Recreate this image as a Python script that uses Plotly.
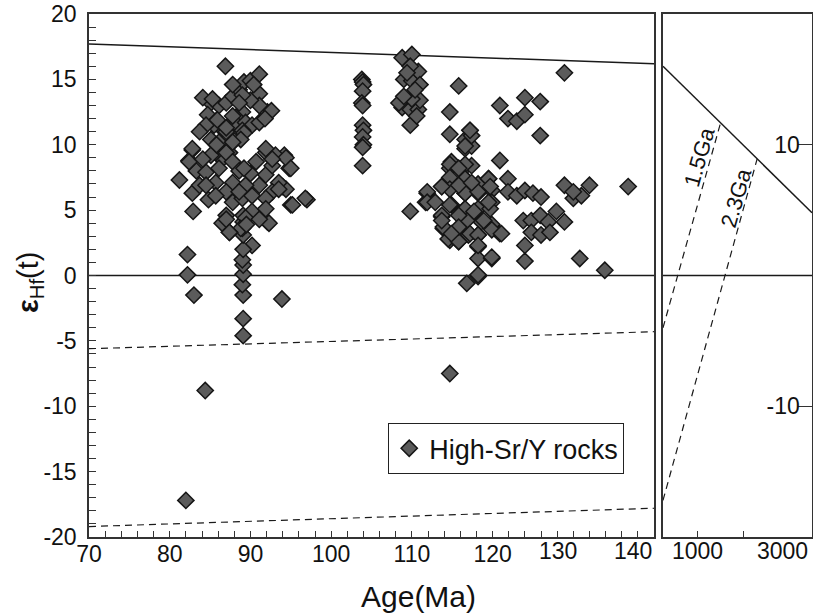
import plotly.graph_objects as go

# ---------------- data ----------------
# 80-97 Ma group
age_a = [86.9, 81.2, 82.9, 82.8, 82.2, 82.2, 83.0, 93.9, 95.0, 84.8, 84.4, 82.0, 97.0, 94.2, 94.8, 94.0, 90.2,
         89.1, 89.1, 89.1, 89.0, 89.1, 89.1, 89.0, 89.1, 89.1, 89.0, 89.1, 89.1]
eps_a = [16.0, 7.3, 4.9, 6.3, 1.6, 0.05, -1.5, -1.8, 5.4, 5.8, -8.8, -17.2, 5.8, 9.2, 8.2, 6.8, 2.3,
         -4.6, -3.3, -1.5, -0.7, 0.1, 0.8, 1.2, 2.0, 3.1, 3.6, 4.1, 4.6]

age_upper = [85.1, 86.1, 84.7, 85.7, 87.0, 87.8, 88.6, 89.2, 90.0, 91.1, 91.1, 92.1, 91.1, 90.0, 89.0, 88.2,
             87.4, 86.5, 85.5, 84.5, 83.7, 85.1, 86.1, 87.0, 88.2, 89.4, 90.2, 91.1, 89.0, 88.0, 87.4, 86.5,
             85.7, 84.1, 85.3, 85.9, 89.0, 90.4, 87.8, 88.6, 87.8, 87.0, 89.2, 88.8, 92.6, 91.8]
eps_upper = [13.2, 13.0, 12.3, 11.8, 13.2, 13.7, 14.2, 14.8, 14.9, 15.4, 13.9, 12.5, 13.0, 13.4, 12.5, 12.1,
             11.5, 11.2, 11.5, 11.5, 11.0, 10.4, 10.2, 11.0, 11.6, 11.7, 11.5, 11.7, 11.1, 10.3, 9.4, 8.9,
             9.4, 13.6, 13.5, 11.9, 13.8, 14.6, 14.6, 13.2, 12.2, 11.3, 10.9, 10.4, 12.6, 12.0]

age_lower = [82.8, 82.4, 83.3, 84.5, 83.7, 85.7, 86.1, 85.1, 87.0, 87.8, 88.6, 87.8, 87.0, 87.8, 89.0,
             90.2, 91.1, 91.9, 92.7, 91.9, 93.1, 94.4, 95.0, 94.4, 95.2, 96.8, 93.5, 92.7, 91.9, 91.1,
             92.1, 90.2, 89.4, 88.8, 87.4, 87.0, 86.5, 85.7, 84.5, 89.4, 90.0, 90.7, 89.2, 88.6, 91.9,
             82.8, 82.4, 84.1, 85.8, 87.8, 91.9, 92.7, 93.5, 92.3, 91.1, 87.0, 87.4, 89.5]
eps_lower = [9.6, 8.8, 8.0, 7.9, 6.9, 7.1, 8.2, 9.2, 9.4, 8.7, 8.0, 7.1, 6.4, 5.6, 5.9,
             6.1, 6.9, 7.7, 8.4, 9.4, 9.2, 9.0, 8.2, 6.6, 5.4, 5.9, 7.1, 6.4, 5.9, 4.6,
             4.1, 4.9, 4.4, 3.6, 3.3, 4.6, 4.0, 6.1, 6.9, 6.9, 7.8, 8.7, 8.2, 6.4, 5.1,
             9.7, 8.7, 8.9, 10.0, 10.2, 9.7, 8.9, 6.6, 4.0, 4.3, 4.3, 3.3, 3.9]

# ~104 Ma column
age_b = [103.8, 103.9, 104.0, 103.9, 103.8, 103.9, 103.9, 104.0, 103.9, 104.0, 103.9, 103.9]
eps_b = [15.0, 14.8, 14.6, 14.1, 13.2, 13.0, 11.5, 11.1, 10.6, 10.0, 9.8, 8.4]

# 108-111 Ma group
age_c = [108.8, 110.0, 109.0, 110.0, 110.8, 111.0, 109.8, 108.8, 109.8, 110.8, 111.0, 110.0, 109.8, 108.4,
         109.4, 110.4, 109.0, 110.6]
eps_c = [16.65, 16.9, 15.0, 14.9, 15.6, 14.6, 16.0, 12.85, 12.7, 12.7, 13.4, 13.5, 11.5, 13.2,
         15.5, 14.2, 13.7, 12.2]

# 110-122 Ma dense group
age_d = [115.8, 114.7, 114.7, 117.2, 116.6, 116.6, 117.4, 120.9, 121.9, 114.9, 114.7, 116.6, 117.4, 114.9,
         116.6, 118.2, 119.5, 119.9, 111.9, 111.7, 109.8, 113.7, 114.7, 116.6, 118.2, 119.9, 114.9, 116.4,
         118.2, 119.7, 113.7, 117.0, 118.6, 119.9, 120.9, 113.9, 114.7, 115.8, 117.0, 118.2, 118.2, 118.2,
         119.9, 118.2, 116.8,
         114.7, 114.7, 114.7, 114.7, 113.7, 113.9, 114.5, 115.8, 116.6, 117.4, 117.2, 116.6, 116.6, 116.6,
         116.6, 116.8, 117.2, 118.2, 118.2, 118.2, 118.2, 119.5, 119.7, 119.5, 118.9, 119.9, 121.1, 119.9,
         111.9, 111.9, 112.9, 113.7, 115.8, 115.8, 115.8, 115.8, 117.7, 117.4, 113.7, 114.9, 114.7]
eps_d = [14.5, 12.5, 10.8, 11.1, 10.4, 9.7, 9.9, 8.8, 7.4, 8.7, 8.2, 8.3, 8.4, 7.1,
         7.4, 7.0, 7.4, 6.5, 6.3, 5.6, 4.9, 6.8, 6.8, 6.3, 6.3, 5.6, 5.4, 5.0,
         5.1, 5.1, 4.5, 4.4, 4.1, 3.9, 3.2, 3.6, 2.7, 2.6, 3.1, 3.1, 2.2, 1.3,
         1.3, -0.08, -0.6,
         8.5, 7.5, 6.6, 5.4, 4.6, 3.7, 2.8, 2.6, 9.9, 10.7, 11.1, 8.5, 7.4, 6.3,
         5.1, 4.2, 3.2, 6.4, 3.1, 2.3, 0.05, 7.4, 6.8, 5.6, 4.2, 3.5, 3.2, 1.4,
         6.4, 5.6, 5.6, 6.8, 6.9, 8.2, 4.6, 3.7, 4.9, 7.1, 4.2, 3.2, -7.5]

# 120-140 Ma scattered group
age_e = [120.9, 121.9, 123.0, 124.0, 124.0, 125.9, 125.9, 128.9, 121.9, 123.0, 124.0, 125.0, 126.0, 123.8,
         124.8, 125.9, 126.9, 127.9, 128.9, 124.8, 126.0, 127.1, 124.0, 124.0, 128.9, 130.0, 131.0, 132.0,
         130.8, 133.9, 136.8, 130.0]
eps_e = [13.0, 12.0, 11.8, 12.3, 13.6, 13.3, 10.7, 15.5, 6.4, 6.1, 6.5, 6.3, 6.0, 4.2,
         4.2, 4.6, 4.1, 4.9, 4.1, 3.3, 3.1, 3.3, 2.3, 1.1, 6.9, 5.9, 6.1, 6.9,
         1.3, 0.4, 6.8, 6.4]

ages = age_a + age_upper + age_lower + age_b + age_c + age_d + age_e
epsilons = eps_a + eps_upper + eps_lower + eps_b + eps_c + eps_d + eps_e

# reference evolution lines, main panel (Age, Ma)
line_age = [70, 140]
dm_eps = [17.7, 16.2]
crust15_eps = [-5.6, -4.3]
crust23_eps = [-19.2, -17.8]
zero_eps = [0, 0]

# reference evolution lines, right panel (Age, Ma)
dm_r_age = [240, 3500]
dm_r_eps = [16.0, 4.8]
c15_r_age = [240, 1500]
c15_r_eps = [-4.0, 11.67]
c23_r_age = [240, 2300]
c23_r_eps = [-17.2, 8.92]
zero_r_age = [240, 3500]

# tick labels; the reference squeezes its "130" and "140" labels leftwards, drawn as text below
x_ticks_main = [70, 80, 90, 100, 110, 120]
x_ticktext_main = ["70", "80", "90", "100", "110", "120"]
x_shifted_labels = ["130", "140"]
y_ticks_main = [-20, -15, -10, -5, 0, 5, 10, 15, 20]
y_ticktext_main = ["-20", "-15", "-10", "-5", "0", "5", "10", "15", "20"]
x_ticks_right = [1000, 2000, 3000]
x_labels_right = [1000, 3000]
y_ticks_right = [-10, 10]
y_ticktext_right = ["-10", "10"]

# ---------------- figure ----------------
FONT = "Liberation Sans, Arial, sans-serif"
LC = "#1a1a1a"
TICK_SIZE = 23
fig = go.Figure()

def line(x, y, dash="solid", xa="x", ya="y", w=1.5):
    fig.add_trace(go.Scatter(x=x, y=y, mode="lines", xaxis=xa, yaxis=ya, showlegend=False,
                             hoverinfo="skip", line=dict(color=LC, width=w, dash=dash)))

DASH = "7px,5px"
line(line_age, dm_eps)
line(line_age, zero_eps)
line(line_age, crust15_eps, DASH, w=1.2)
line(line_age, crust23_eps, DASH, w=1.2)
line(dm_r_age, dm_r_eps, xa="x2", ya="y2")
line(zero_r_age, zero_eps, xa="x2", ya="y2")
line(c15_r_age, c15_r_eps, DASH, "x2", "y2", w=1.2)
line(c23_r_age, c23_r_eps, DASH, "x2", "y2", w=1.2)

fig.add_trace(go.Scatter(
    x=ages, y=epsilons, mode="markers", name="High-Sr/Y rocks", xaxis="x", yaxis="y",
    marker=dict(symbol="diamond", size=12.5, color="#5b5b5b", line=dict(color="#151515", width=1.5))))

axc = dict(showline=True, linecolor="#333", linewidth=1.5, mirror=True, showgrid=False, zeroline=False,
           automargin=False, ticks="inside", tickcolor="#333", tickwidth=1.2)
tf = dict(family=FONT, size=TICK_SIZE, color="#111")

annotations = [
    dict(text=x_shifted_labels[0], xref="paper", yref="paper", x=0.6487, y=-0.0268, xanchor="center",
         yanchor="middle", showarrow=False, font=tf),
    dict(text=x_shifted_labels[1], xref="paper", yref="paper", x=0.7524, y=-0.0268, xanchor="center",
         yanchor="middle", showarrow=False, font=tf),
    dict(text="Age(Ma)", xref="paper", yref="paper", x=0.4564, y=-0.1147, xanchor="center",
         yanchor="middle", showarrow=False, font=dict(family=FONT, size=30, color="#111")),
    dict(text="<b>ε</b><sub>Hf</sub>(t)", xref="paper", yref="paper", x=-0.0816, y=0.4857,
         xanchor="center", yanchor="middle", textangle=-90, showarrow=False,
         font=dict(family=FONT, size=29, color="#111")),
    dict(text="1.5Ga", xref="x2", yref="y2", x=1028, y=9.05, textangle=-74, showarrow=False,
         font=dict(family=FONT, size=22, color="#111")),
    dict(text="2.3Ga", xref="x2", yref="y2", x=1837, y=6.0, textangle=-74, showarrow=False,
         font=dict(family=FONT, size=22, color="#111")),
]
# right-panel x tick labels (the last one nudged inwards as in the reference)
for v, shift in zip(x_labels_right, [0, -7]):
    annotations.append(dict(text=str(v), xref="x2", yref="paper", x=v, y=-0.0268, xanchor="center",
                            yanchor="middle", xshift=shift, showarrow=False, font=tf))

fig.update_layout(
    width=813, height=613,
    margin=dict(l=89, r=1, t=14, b=76),
    paper_bgcolor="white", plot_bgcolor="white",
    font=dict(family=FONT, color="#111"),
    xaxis=dict(domain=[0, 0.7815], range=[70, 140], tickmode="array", tickvals=x_ticks_main,
               ticktext=x_ticktext_main, ticklen=6, ticklabelstandoff=-4, tickfont=tf,
               minor=dict(tick0=0, dtick=2, ticks="inside", ticklen=6, tickcolor="#333", tickwidth=1.2),
               anchor="y", **axc),
    yaxis=dict(domain=[0, 1], range=[-20, 20], tickmode="array", tickvals=y_ticks_main,
               ticktext=y_ticktext_main, ticklen=7, tickfont=tf,
               minor=dict(tick0=0, dtick=1, ticks="inside", ticklen=7, tickcolor="#333", tickwidth=1.2),
               anchor="x", ticklabelstandoff=6, **axc),
    xaxis2=dict(domain=[0.7939, 1], range=[240, 3500], tickmode="array", tickvals=x_ticks_right,
                showticklabels=False, ticklen=6, anchor="y2", **axc),
    yaxis2=dict(domain=[0, 1], range=[-20, 20], tickmode="array", tickvals=y_ticks_right,
                ticktext=y_ticktext_right, side="right", tickfont=tf,
                ticklen=14, ticklabelposition="inside", anchor="x2", **axc),
    legend=dict(x=0.74, xanchor="right", y=0.218, yanchor="top", bgcolor="white",
                bordercolor="#222", borderwidth=1.2, font=dict(family=FONT, size=27, color="#111")),
    showlegend=True,
    annotations=annotations,
)

fig.write_html("out.html", config={"displayModeBar": False},
               post_script="document.body.style.margin='0';document.body.style.overflow='hidden';")
